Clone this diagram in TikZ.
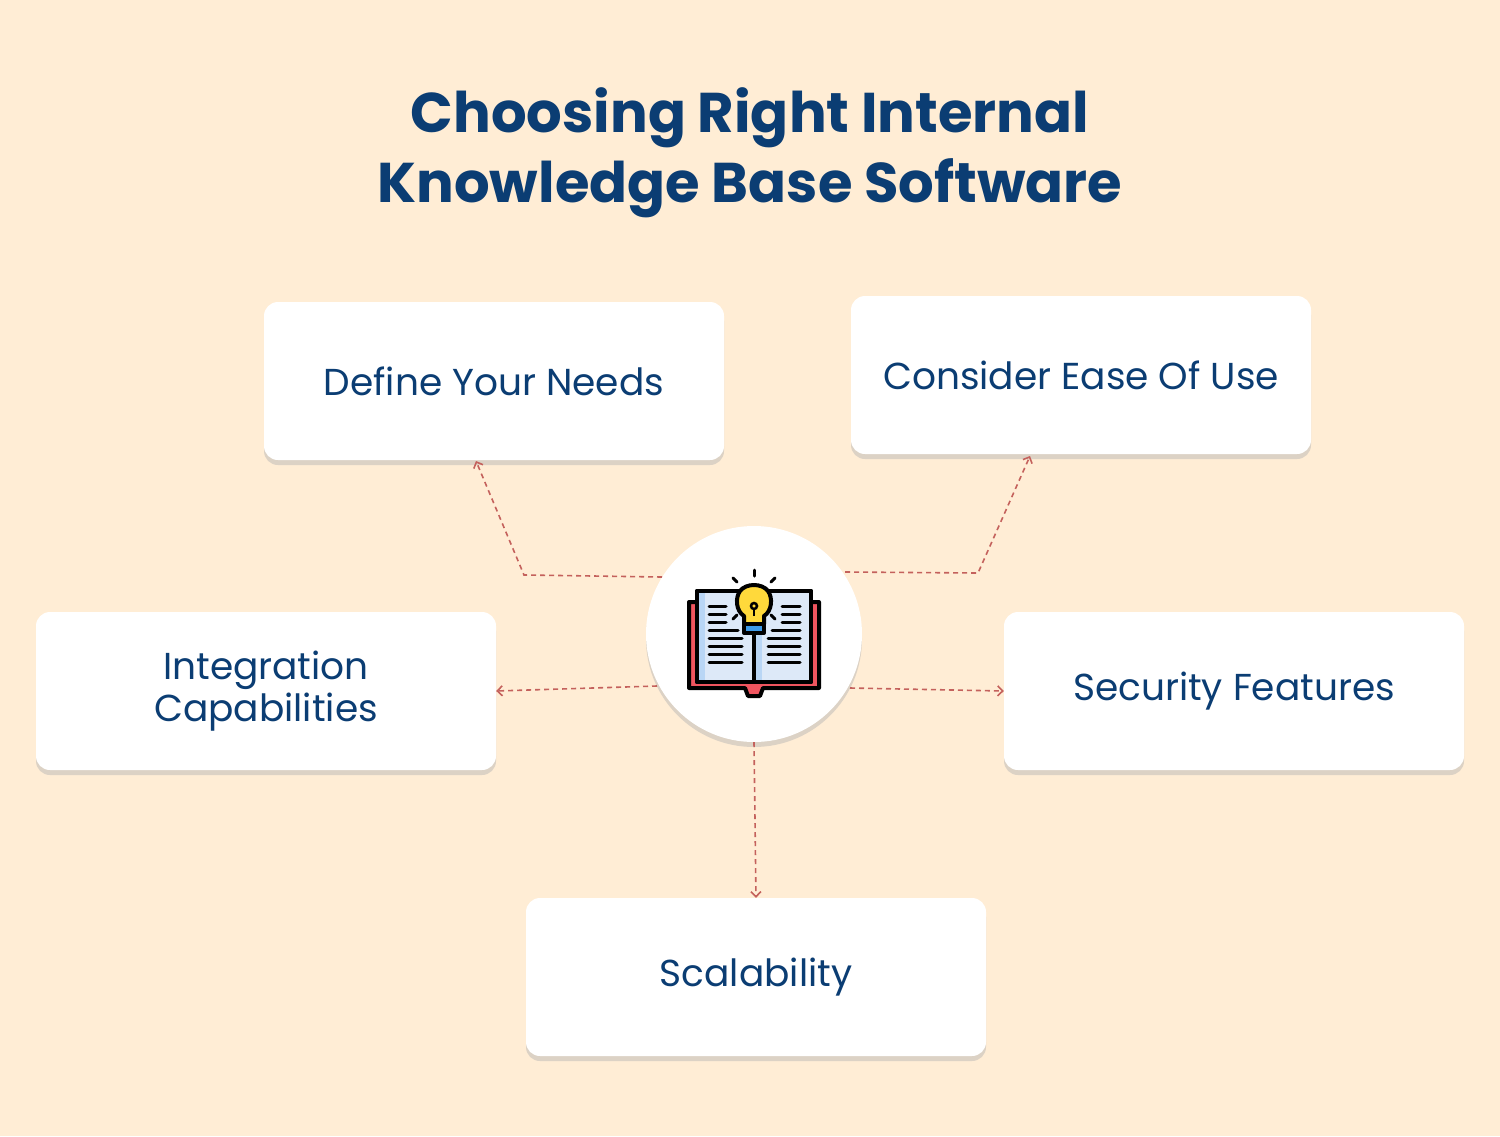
\documentclass[tikz,border=0pt]{standalone}
\usepackage{fontspec}
\setmainfont{Poppins}
\usetikzlibrary{shadows,arrows.meta}
\definecolor{bg}{HTML}{FFEDD5}
\definecolor{navy}{HTML}{0B3D73}
\definecolor{conn}{HTML}{C4615C}
\definecolor{bred}{HTML}{F0555F}
\definecolor{page}{HTML}{DDE9F8}
\definecolor{pagel}{HTML}{B9D6F5}
\definecolor{bulb}{HTML}{FFD93B}
\definecolor{bblue}{HTML}{3D9BE9}
\tikzset{
 card/.style={draw=none,fill=white,rounded corners=14pt,minimum width=460pt,minimum height=158pt,
   text=navy,font=\fontsize{37.5}{44}\selectfont,align=center,
   drop shadow={shadow xshift=0pt,shadow yshift=-5pt,fill=black!30,opacity=0.45}},
 link/.style={draw=conn,dashed,line width=1.6pt,dash pattern=on 5pt off 4pt,-{Straight Barb[length=5pt,width=10pt]}},
 ink/.style={line width=4pt,line cap=round,line join=round,draw=black}
}
\begin{document}
\begin{tikzpicture}[x=1pt,y=-1pt]
\fill[bg] (0,0) rectangle (1500,1136);
\useasboundingbox (0,0) rectangle (1500,1136);
\node[text=navy,font=\fontsize{56}{70}\selectfont\bfseries,align=center] (title) at (750,153) {Choosing Right Internal\\Knowledge Base Software};
\node[card] (define) at (494,381) {\raisebox{-4pt}{Define Your Needs}};
\node[card] (ease) at (1081,375) {\raisebox{-4pt}{Consider Ease Of Use}};
\node[card] (integ) at (266,691) {\raisebox{-4pt}{\shortstack{Integration\\Capabilities}}};
\node[card] (secur) at (1234,691) {\raisebox{-4pt}{Security Features}};
\node[card] (scal) at (756,977) {\raisebox{-4pt}{Scalability}};
\node[circle,fill=white,minimum size=216pt,inner sep=0pt,
  drop shadow={shadow xshift=0pt,shadow yshift=-5pt,fill=black!30,opacity=0.45}] (hub) at (754,634) {};
\coordinate (k1) at (524,575);
\coordinate (k2) at (978,573);
\draw[link] (662,577) -- (k1) -- (476,461);
\draw[link] (845,572) -- (k2) -- (1030,456);
\draw[link] (657,686) -- (integ.east);
\draw[link] (850,688) -- (secur.west);
\draw[link] (hub.south) -- (scal.north);
% icon
\begin{scope}
\draw[ink,fill=bred] (689,602) -- (689,688) -- (745,688) -- (748,696) -- (760,696) -- (763,688) -- (819,688) -- (819,602) -- cycle;
\draw[ink,fill=page] (697,591) rectangle (754,682);
\draw[ink,fill=page] (754,591) rectangle (811,682);
\fill[pagel] (699,593) rectangle (705,680);
\fill[pagel] (756,593) rectangle (762,680);
\draw[ink] (697,591) rectangle (754,682);
\draw[ink] (754,591) rectangle (811,682);
\foreach \y in {606,614,622} {\draw[line width=3pt,line cap=round] (709,\y) -- (726,\y); \draw[line width=3pt,line cap=round] (782,\y) -- (800,\y);}
\foreach \y in {638,646,654,662} {\draw[line width=3pt,line cap=round] (709,\y) -- (742,\y); \draw[line width=3pt,line cap=round] (768,\y) -- (800,\y);}
\draw[line width=3pt,line cap=round] (709,630) -- (738,630);
\draw[line width=3pt,line cap=round] (772,630) -- (800,630);
\draw[ink,fill=bulb] (744,624) -- (744,616) .. controls (736,611) and (735,598) .. (740,591) .. controls (746,583) and (762,583) .. (768,591) .. controls (773,598) and (772,611) .. (764,616) -- (764,624) -- cycle;
\draw[ink,fill=bblue] (744,624) rectangle (764,633);
\draw[line width=3pt] (754,633) -- (754,682);
\draw[line width=2.5pt] (754,616) -- (754,608);
\draw[line width=2.5pt] (754,606) circle (3pt);
\draw[line width=3pt,line cap=round] (754,570) -- (754,576);
\draw[line width=3pt,line cap=round] (733,578) -- (737,582);
\draw[line width=3pt,line cap=round] (775,578) -- (771,582);
\draw[line width=3pt,line cap=round] (733,619) -- (737,615);
\draw[line width=3pt,line cap=round] (775,619) -- (771,615);
\end{scope}
\end{tikzpicture}
\end{document}
